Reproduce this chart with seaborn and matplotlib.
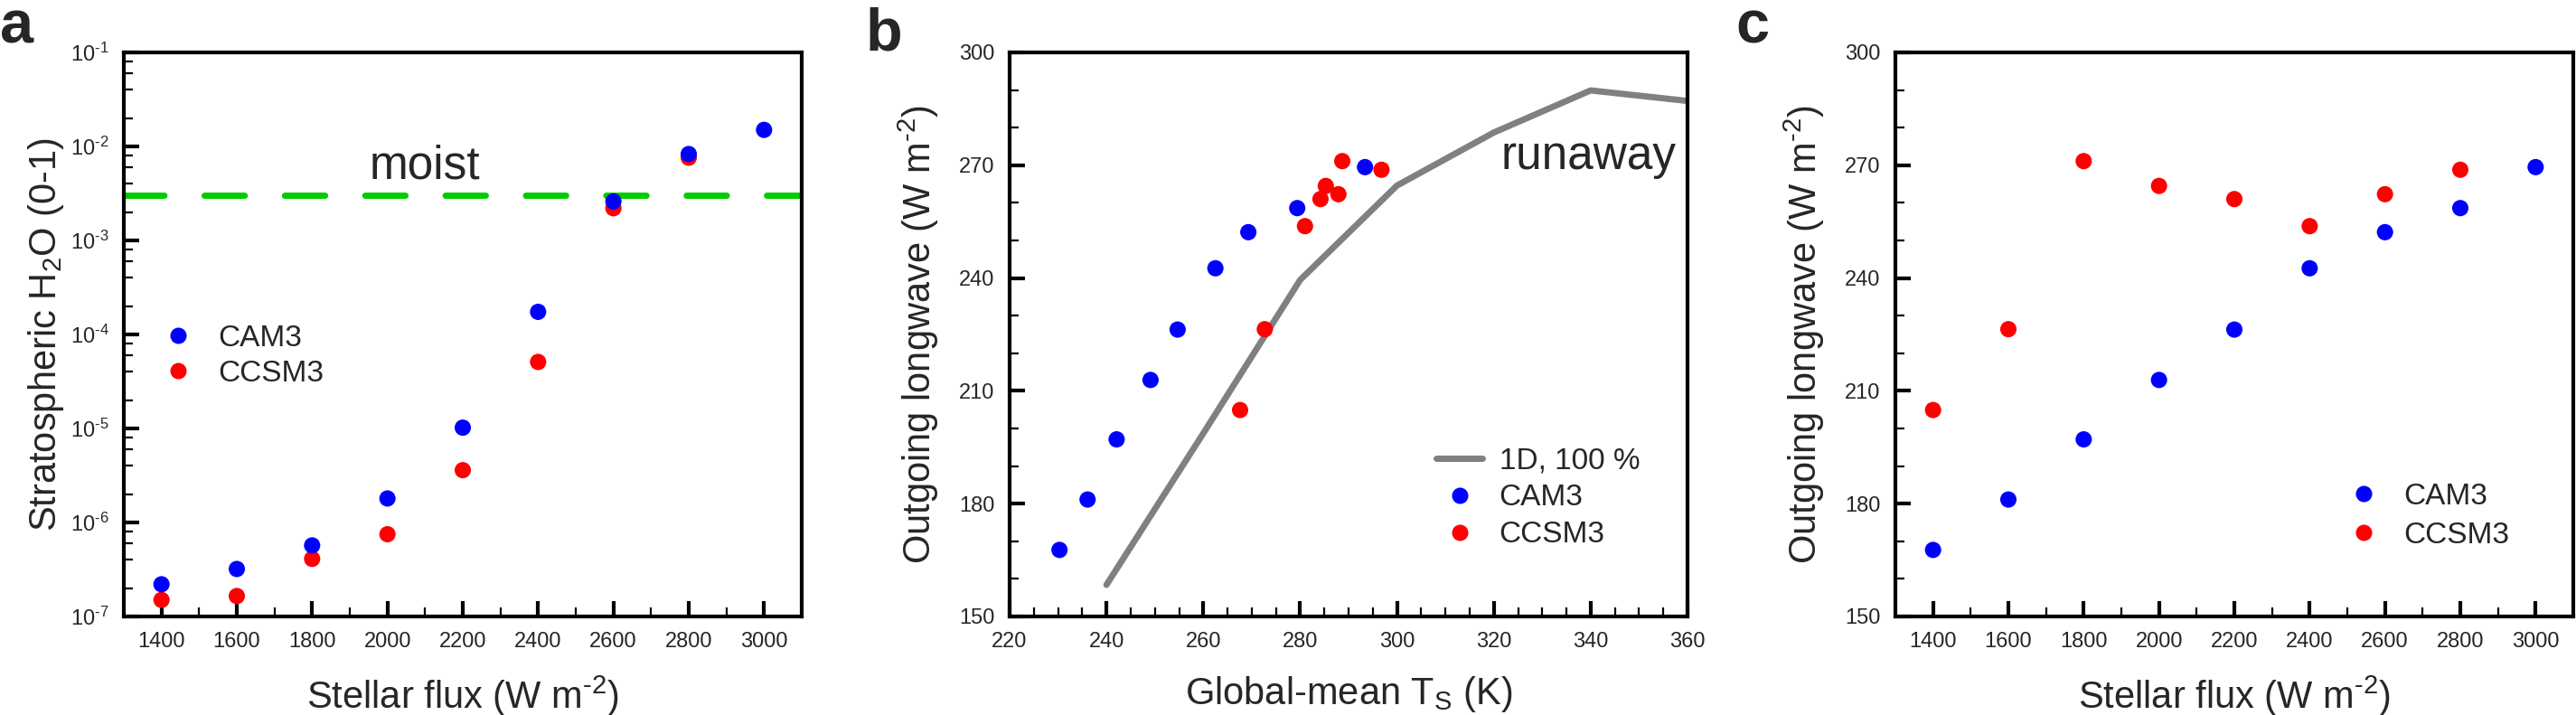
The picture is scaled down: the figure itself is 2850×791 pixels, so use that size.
import numpy as np
import pandas as pd
import matplotlib
matplotlib.use("Agg")
import matplotlib.pyplot as plt
import seaborn as sns
from matplotlib.ticker import LogLocator, MultipleLocator, FixedLocator, NullFormatter, FuncFormatter
from matplotlib.lines import Line2D

# ---------------- data ----------------
flux_cam3 = [1400, 1600, 1800, 2000, 2200, 2400, 2600, 2800, 3000]
h2o_cam3 = [2.2e-7, 3.2e-7, 5.7e-7, 1.8e-6, 1.02e-5, 1.74e-4, 2.6e-3, 8.3e-3, 1.5e-2]
flux_ccsm3 = [1400, 1600, 1800, 2000, 2200, 2400, 2600, 2800]
h2o_ccsm3 = [1.5e-7, 1.65e-7, 4.1e-7, 7.5e-7, 3.6e-6, 5.1e-5, 2.2e-3, 7.6e-3]
moist_limit = 3.0e-3

ts_cam3 = [230.3, 236.1, 242.1, 249.1, 254.7, 262.5, 269.3, 279.4, 293.4]
olr_cam3 = [167.7, 181.1, 197.1, 212.9, 226.3, 242.6, 252.2, 258.6, 269.5]
ts_ccsm3 = [267.6, 272.7, 288.7, 285.3, 284.2, 281.0, 287.9, 296.8]
olr_ccsm3 = [204.9, 226.4, 271.1, 264.5, 261.0, 253.8, 262.3, 268.8]

ts_1d = [240, 260, 280, 300, 320, 340, 360]
olr_1d = [158.4, 198.7, 239.5, 264.6, 278.7, 289.9, 287.1]

models = ["CAM3", "CCSM3"]
model_colors = {"CAM3": "#0000ff", "CCSM3": "#ff0000"}
line_label = "1D, 100 %"

# ---------------- style ----------------
sns.set_style("ticks")
plt.rcParams["font.family"] = ["Liberation Sans", "DejaVu Sans"]
plt.rcParams["mathtext.fontset"] = "custom"
plt.rcParams["mathtext.rm"] = "Liberation Sans"
plt.rcParams["mathtext.it"] = "Liberation Sans:italic"
plt.rcParams["mathtext.bf"] = "Liberation Sans:bold"
plt.rcParams["mathtext.default"] = "regular"
plt.rcParams["axes.unicode_minus"] = False

TICK_FS = 17
LABEL_FS = 30
LEG_FS = 24
ANN_FS = 37
PANEL_FS = 48
MS = 13  # marker diameter in points

WM2 = r"(W m$^{\text{-2}}$)"

# dataframes (CCSM3 first so CAM3 is drawn on top)
df_a = pd.concat([
    pd.DataFrame({"flux": flux_ccsm3, "h2o": h2o_ccsm3, "model": "CCSM3"}),
    pd.DataFrame({"flux": flux_cam3, "h2o": h2o_cam3, "model": "CAM3"}),
], ignore_index=True)
olr_cam3_df = pd.DataFrame({"ts": ts_cam3, "flux": flux_cam3, "olr": olr_cam3, "model": "CAM3"})
olr_ccsm3_df = pd.DataFrame({"ts": ts_ccsm3, "flux": flux_ccsm3, "olr": olr_ccsm3, "model": "CCSM3"})
df_olr = pd.concat([olr_ccsm3_df, olr_cam3_df], ignore_index=True)
df_1d = pd.DataFrame({"ts": ts_1d, "olr": olr_1d})

W, H = 2850, 791
fig = plt.figure(figsize=(W / 100, H / 100), dpi=100)
fig.patch.set_facecolor("white")

def frac_axes(left_px, right_px, top_px, bottom_px):
    return fig.add_axes([left_px / W, 1 - bottom_px / H, (right_px - left_px) / W, (bottom_px - top_px) / H])

ax_a = frac_axes(137, 887, 58, 682)
ax_b = frac_axes(1117, 1867, 58, 682)
ax_c = frac_axes(2097, 2847, 58, 682)

def style_axes(ax):
    for s in ax.spines.values():
        s.set_linewidth(3)
        s.set_color("black")
        s.set_visible(True)
    ax.tick_params(which="major", direction="in", length=12, width=3, labelsize=TICK_FS,
                   top=False, right=False, pad=12, color="black")
    ax.tick_params(which="minor", direction="in", length=7, width=1.6,
                   top=False, right=False, color="black")
    ax.grid(False)
    ax.set_facecolor("white")

def model_handles():
    return [Line2D([], [], marker="o", linestyle="", markersize=MS, markeredgewidth=0,
                   color=model_colors[m], label=m) for m in models]

def log_fmt(v, pos):
    e = int(round(np.log10(v)))
    if e < 0:
        return r"$10^{\text{-%d}}$" % (-e)
    return r"$10^{%d}$" % e

# ---------------- panel a ----------------
sns.scatterplot(data=df_a, x="flux", y="h2o", hue="model", hue_order=models,
                palette=model_colors, s=MS ** 2, linewidth=0, ax=ax_a, legend=False, zorder=3)
ax_a.axhline(moist_limit, color="#00cc00", lw=5, dashes=(6.4, 6.4), dash_capstyle="round", zorder=2)
ax_a.set_yscale("log")
ax_a.set_xlim(1300, 3100)
ax_a.set_ylim(1e-7, 1e-1)
ax_a.xaxis.set_major_locator(FixedLocator(flux_cam3))
ax_a.xaxis.set_minor_locator(MultipleLocator(100))
ax_a.yaxis.set_major_locator(LogLocator(base=10, numticks=20))
ax_a.yaxis.set_major_formatter(FuncFormatter(log_fmt))
ax_a.yaxis.set_minor_locator(LogLocator(base=10, subs=(2, 4, 6, 8), numticks=20))
ax_a.yaxis.set_minor_formatter(NullFormatter())
style_axes(ax_a)
ax_a.set_xlabel("Stellar flux " + WM2, fontsize=LABEL_FS, labelpad=18)
ax_a.set_ylabel("Stratospheric H$_2$O (0-1)", fontsize=LABEL_FS, labelpad=3)
ax_a.text(2100, 4.6e-3, "moist", fontsize=ANN_FS, ha="center", va="baseline")
ax_a.legend(handles=model_handles(), loc="upper left", bbox_to_anchor=(0.046, 0.518),
            frameon=False, fontsize=LEG_FS, handlelength=1.55, handletextpad=0.55,
            labelspacing=0.25, borderpad=0, borderaxespad=0)

# ---------------- panel b ----------------
sns.lineplot(data=df_1d, x="ts", y="olr", color="#808080", lw=5, ax=ax_b, zorder=2,
             solid_capstyle="round", solid_joinstyle="round")
sns.scatterplot(data=df_olr, x="ts", y="olr", hue="model", hue_order=models,
                palette=model_colors, s=MS ** 2, linewidth=0, ax=ax_b, legend=False, zorder=3)
ax_b.set_xlim(220, 360)
ax_b.set_ylim(150, 300)
ax_b.xaxis.set_major_locator(MultipleLocator(20))
ax_b.xaxis.set_minor_locator(MultipleLocator(5))
ax_b.yaxis.set_major_locator(MultipleLocator(30))
ax_b.yaxis.set_minor_locator(MultipleLocator(10))
style_axes(ax_b)
ax_b.set_xlabel("Global-mean T$_S$ (K)", fontsize=LABEL_FS, labelpad=18)
ax_b.set_ylabel("Outgoing longwave " + WM2, fontsize=LABEL_FS, labelpad=14)
ax_b.text(339.5, 269, "runaway", fontsize=ANN_FS, ha="center", va="baseline")
h_line = Line2D([], [], color="#808080", lw=5, solid_capstyle="round", label=line_label)
ax_b.legend(handles=[h_line] + model_handles(), loc="upper left", bbox_to_anchor=(0.629, 0.301),
            frameon=False, fontsize=LEG_FS, handlelength=1.55, handletextpad=0.55,
            labelspacing=0.3, borderpad=0, borderaxespad=0)

# ---------------- panel c ----------------
sns.scatterplot(data=df_olr, x="flux", y="olr", hue="model", hue_order=models,
                palette=model_colors, s=MS ** 2, linewidth=0, ax=ax_c, legend=False, zorder=3)
ax_c.set_xlim(1300, 3100)
ax_c.set_ylim(150, 300)
ax_c.xaxis.set_major_locator(FixedLocator(flux_cam3))
ax_c.xaxis.set_minor_locator(MultipleLocator(100))
ax_c.yaxis.set_major_locator(MultipleLocator(30))
ax_c.yaxis.set_minor_locator(MultipleLocator(10))
style_axes(ax_c)
ax_c.set_xlabel("Stellar flux " + WM2, fontsize=LABEL_FS, labelpad=18)
ax_c.set_ylabel("Outgoing longwave " + WM2, fontsize=LABEL_FS, labelpad=14)
ax_c.legend(handles=model_handles(), loc="upper left", bbox_to_anchor=(0.656, 0.237),
            frameon=False, fontsize=LEG_FS, handlelength=1.55, handletextpad=0.55,
            labelspacing=0.35, borderpad=0, borderaxespad=0)

# panel letters
fig.text(0 / W, 1 - 47 / H, "a", fontsize=PANEL_FS, fontweight="bold", ha="left", va="baseline")
fig.text(958 / W, 1 - 55 / H, "b", fontsize=PANEL_FS, fontweight="bold", ha="left", va="baseline")
fig.text(1920 / W, 1 - 48 / H, "c", fontsize=PANEL_FS, fontweight="bold", ha="left", va="baseline")

fig.savefig("out.png", dpi=100, facecolor="white")
